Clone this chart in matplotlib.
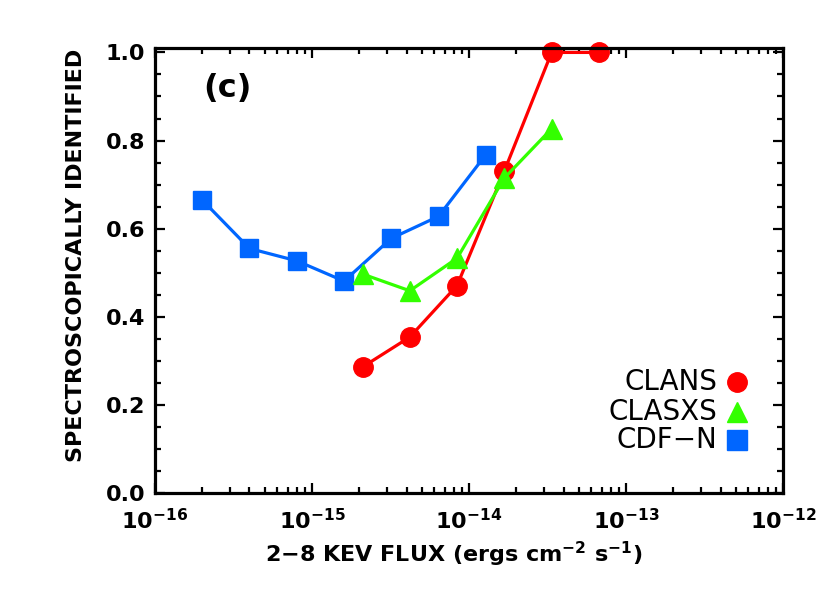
import numpy as np
import matplotlib
matplotlib.use('Agg')
import matplotlib.pyplot as plt
from matplotlib.ticker import LogLocator, MultipleLocator, FixedLocator, LogFormatterMathtext

plt.rcParams['font.family'] = 'DejaVu Sans'

# --------------------------------------------------
# data
# --------------------------------------------------
flux_cdfn = [2.0e-16, 4.0e-16, 8.0e-16, 1.6e-15, 3.2e-15, 6.4e-15, 1.28e-14]
frac_cdfn = [0.665, 0.555, 0.527, 0.481, 0.578, 0.628, 0.768]

flux_clasxs = [2.1e-15, 4.2e-15, 8.4e-15, 1.68e-14, 3.36e-14]
frac_clasxs = [0.497, 0.459, 0.533, 0.715, 0.827]

flux_clans = [2.1e-15, 4.2e-15, 8.4e-15, 1.68e-14, 3.36e-14, 6.72e-14]
frac_clans = [0.286, 0.354, 0.471, 0.731, 1.0, 1.0]

x_major = [1e-16, 1e-15, 1e-14, 1e-13, 1e-12]
y_major = [0.0, 0.2, 0.4, 0.6, 0.8, 1.0]

names = ['CLANS', 'CLASXS', 'CDF\u2212N']
colors = ['#ff0000', '#33ff00', '#0066ff']
markers = ['o', '^', 's']

# --------------------------------------------------
# figure
# --------------------------------------------------
fig = plt.figure(figsize=(8.3, 5.93), dpi=100)
ax = fig.add_axes([0.1867, 0.1686, 0.7567, 0.7504])

ax.plot(flux_cdfn, frac_cdfn, color=colors[2], lw=2.3, marker='s', ms=13.5,
        clip_on=False, zorder=2)
ax.plot(flux_clans, frac_clans, color=colors[0], lw=2.3, marker='o', ms=14,
        clip_on=False, zorder=2)
ax.plot(flux_clasxs, frac_clasxs, color=colors[1], lw=2.3, marker='^', ms=14.5,
        clip_on=False, zorder=2)

ax.set_xscale('log')
ax.set_xlim(1e-16, 1e-12)
ax.set_ylim(0, 1.01)

ax.xaxis.set_major_locator(FixedLocator(x_major))
ax.xaxis.set_major_formatter(LogFormatterMathtext())
ax.xaxis.set_minor_locator(LogLocator(base=10, subs=np.arange(2, 10), numticks=20))
ax.yaxis.set_major_locator(FixedLocator(y_major))
ax.yaxis.set_minor_locator(MultipleLocator(0.05))
ax.yaxis.set_major_formatter(plt.FuncFormatter(lambda v, p: f'{v:.1f}'))

ax.tick_params(which='both', direction='in', top=True, right=True, width=1.6)
ax.tick_params(which='major', length=7.5)
ax.tick_params(which='minor', length=4)
ax.tick_params(axis='x', which='major', pad=11, labelsize=16)
ax.tick_params(axis='y', which='major', pad=7, labelsize=16)
for lab in ax.get_xticklabels() + ax.get_yticklabels():
    lab.set_fontweight('bold')

for sp in ax.spines.values():
    sp.set_linewidth(2.3)

ax.text(0.476, -0.137, '2\u22128 KEV FLUX (ergs cm$^{\\mathdefault{-2}}$ s$^{\\mathdefault{-1}}$)',
        transform=ax.transAxes, ha='center', va='center', fontsize=16, fontweight='bold')
ax.text(-0.126, 0.533, 'SPECTROSCOPICALLY IDENTIFIED', transform=ax.transAxes,
        ha='center', va='center', rotation=90, fontsize=16, fontweight='bold')

ax.text(0.115, 0.91, '(c)', transform=ax.transAxes, ha='center', va='center',
        fontsize=23, fontweight='semibold')

# legend drawn by hand, text on the left of the symbol
leg_y = [0.250, 0.183, 0.119]
for nm, c, m, yy in zip(names, colors, markers, leg_y):
    ax.text(0.895, yy, nm, transform=ax.transAxes, ha='right', va='center', fontsize=20)
    ax.plot([0.927], [yy], transform=ax.transAxes, marker=m, color=c, ms=14,
            ls='none', clip_on=False)

plt.savefig('out.png', dpi=100)
